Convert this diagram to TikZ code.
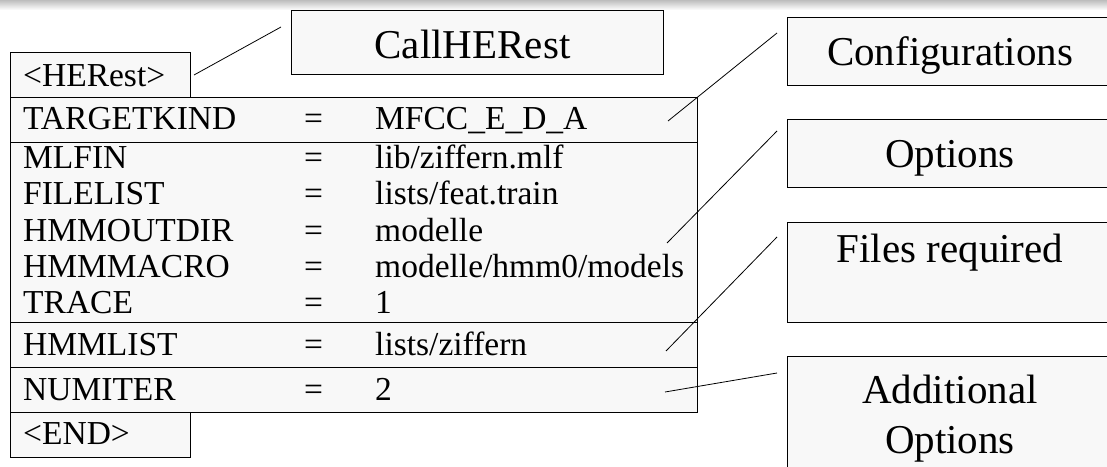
\documentclass[tikz,border=0pt]{standalone}
\usepackage{fontspec}
\setmainfont{Liberation Serif}
\definecolor{boxfill}{HTML}{F8F8F8}
\definecolor{hazegray}{HTML}{BDBDBD}
\tikzset{
  x=1pt, y=-1pt,
  frame/.style={draw=black, line width=0.9pt, fill=boxfill, rectangle, inner sep=0pt, anchor=north west},
  rowtext/.style={anchor=base west, inner sep=0pt, font=\fontsize{33.5}{40}\selectfont},
  labeltext/.style={anchor=base, inner sep=0pt, font=\fontsize{41}{48}\selectfont},
  callout/.style={draw=black, line width=0.8pt},
}
\begin{document}
\begin{tikzpicture}
\clip (0,0) rectangle (1107,466);
\fill[white] (0,0) rectangle (1107,466);
% faint grey band along the upper edge
\shade[top color=hazegray, bottom color=white] (0,0) rectangle (1107,10);

% the configuration file
\node[frame, minimum width=180pt, minimum height=45pt] (herest) at (10,52) {};
\node[frame, minimum width=687pt, minimum height=315pt] (table) at (10,97) {};
\node[frame, minimum width=180pt, minimum height=45pt] (endbox) at (10,412) {};
\draw[line width=0.9pt] (10,142) -- (697,142);
\draw[line width=0.9pt] (10,322) -- (697,322);
\draw[line width=0.9pt] (10,367) -- (697,367);

\node[rowtext] (t0) at (23,86) {<HERest>};
\node[rowtext] (n1) at (23,129) {TARGETKIND};
\node[rowtext] (n2) at (23,168) {MLFIN};
\node[rowtext] (n3) at (23,204.5) {FILELIST};
\node[rowtext] (n4) at (23,241) {HMMOUTDIR};
\node[rowtext] (n5) at (23,277) {HMMMACRO};
\node[rowtext] (n6) at (23,313.5) {TRACE};
\node[rowtext] (n7) at (23,355) {HMMLIST};
\node[rowtext] (n8) at (23,400) {NUMITER};
\node[rowtext] (t9) at (23,444) {<END>};

\foreach \y/\k in {129/1,168/2,204.5/3,241/4,277/5,313.5/6,355/7,400/8}
  \node[rowtext] (e\k) at (304,\y) {=};

\node[rowtext] (v1) at (375,129) {MFCC\_E\_D\_A};
\node[rowtext] (v2) at (375,168) {lib/ziffern.mlf};
\node[rowtext] (v3) at (375,204.5) {lists/feat.train};
\node[rowtext] (v4) at (375,241) {modelle};
\node[rowtext] (v5) at (375,277) {modelle/hmm0/models};
\node[rowtext] (v6) at (375,313.5) {1};
\node[rowtext] (v7) at (375,355) {lists/ziffern};
\node[rowtext] (v8) at (375,400) {2};

% explanation boxes
\node[frame, minimum width=372pt, minimum height=64pt] (call) at (291,10) {};
\node[frame, minimum width=326pt, minimum height=68pt] (conf) at (787,17) {};
\node[frame, minimum width=326pt, minimum height=68pt] (opts) at (787,119) {};
\node[frame, minimum width=326pt, minimum height=100pt] (files) at (787,222) {};
\node[frame, minimum width=326pt, minimum height=130pt] (addl) at (787,356) {};

\node[labeltext] (callt) at (472.5,58) {CallHERest};
\node[labeltext] (conft) at (950,65) {Configurations};
\node[labeltext] (optst) at (950,167) {Options};
\node[labeltext] (filest) at (950,262) {Files required};
\node[labeltext] (addlt1) at (950,403) {Additional};
\node[labeltext] (addlt2) at (950,453) {Options};

% callout lines
\coordinate (c0a) at (194,75);  \coordinate (c0b) at (281,27);
\coordinate (c1a) at (668,121); \coordinate (c1b) at (777,33);
\coordinate (c2a) at (667,243); \coordinate (c2b) at (777,131);
\coordinate (c3a) at (666,351); \coordinate (c3b) at (777,237);
\coordinate (c4a) at (665,392); \coordinate (c4b) at (777,373);
\draw[callout] (c0a) -- (c0b);
\draw[callout] (c1a) -- (c1b);
\draw[callout] (c2a) -- (c2b);
\draw[callout] (c3a) -- (c3b);
\draw[callout] (c4a) -- (c4b);
\end{tikzpicture}
\end{document}
